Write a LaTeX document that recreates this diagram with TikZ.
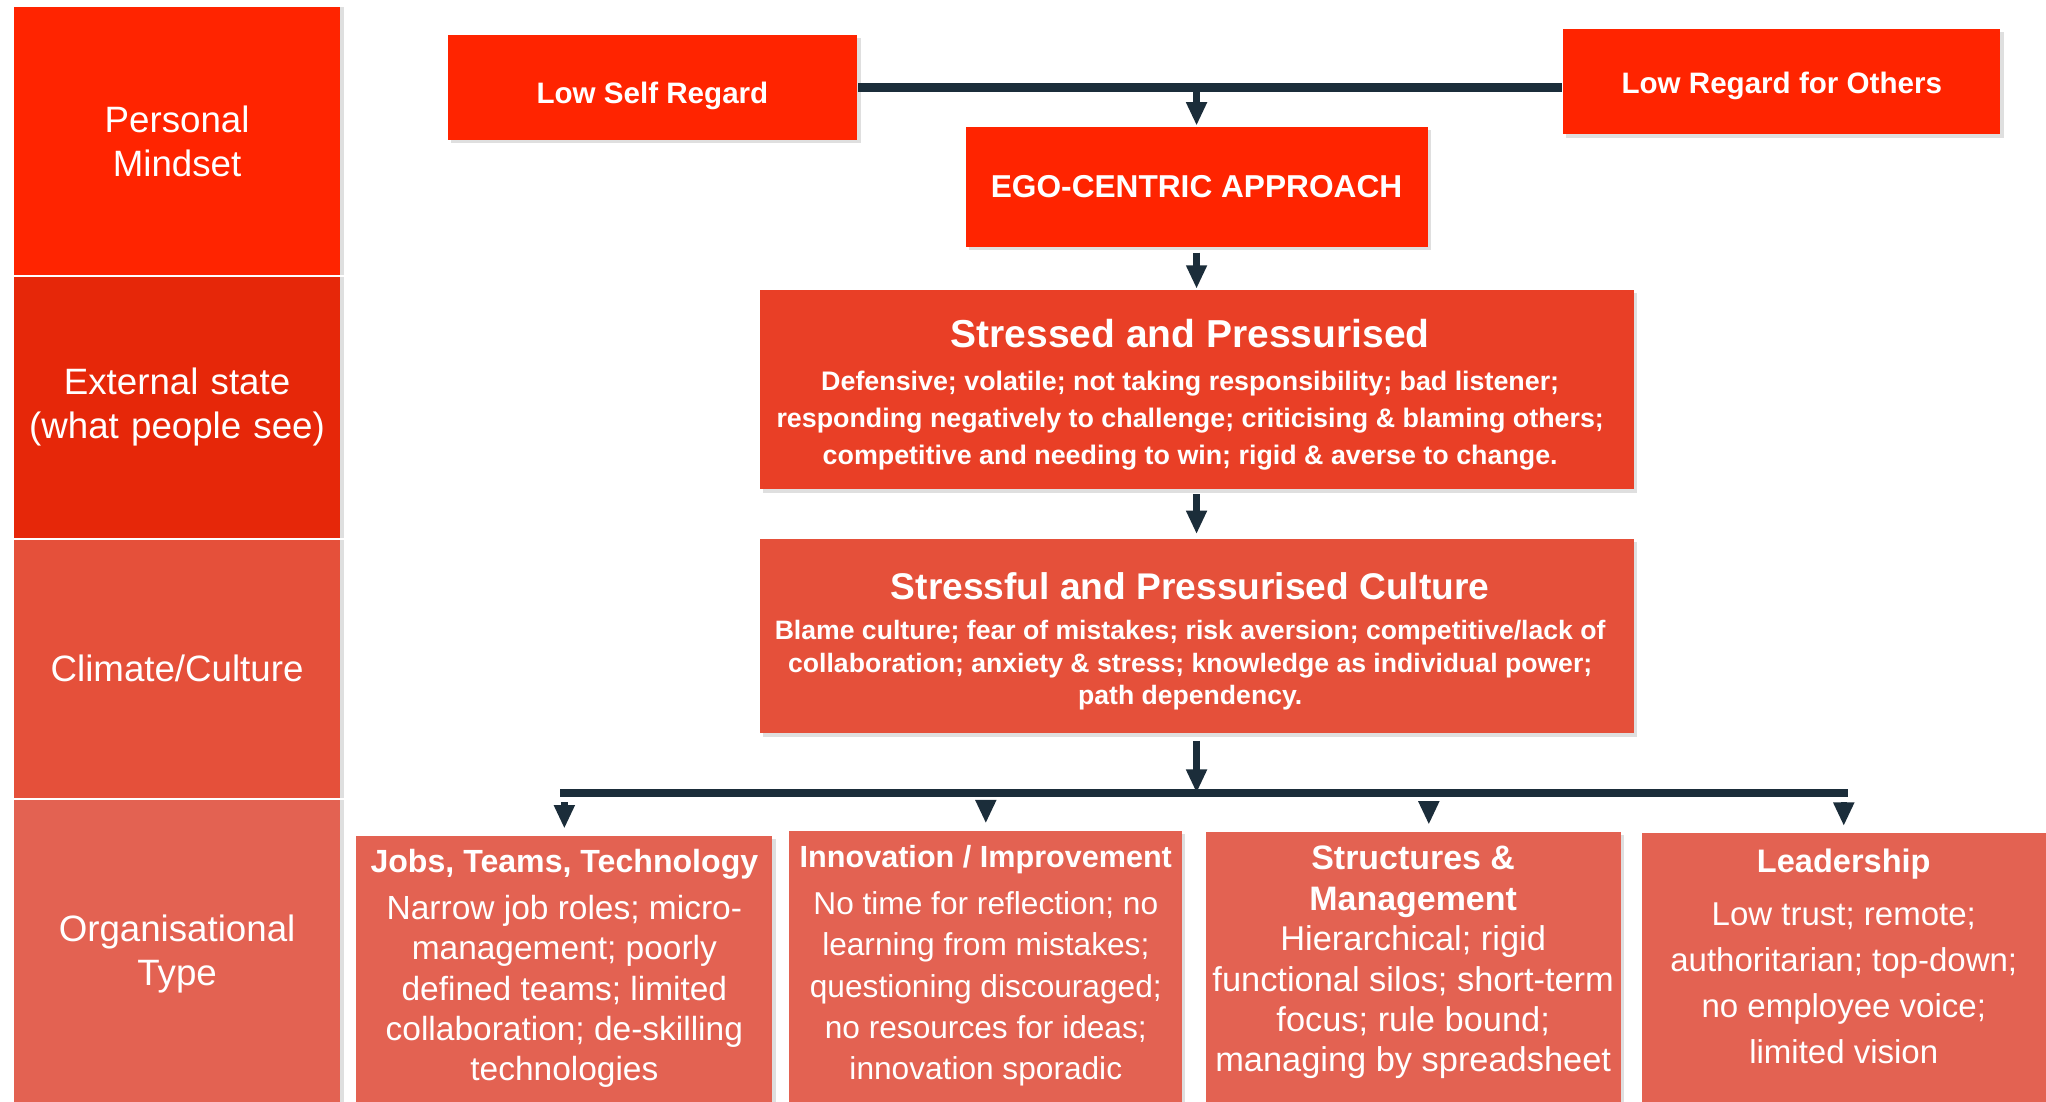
\documentclass[tikz,border=0pt]{standalone}
\usepackage{fontspec}
\setmainfont{Liberation Sans}
\usepackage{tikz}
\usetikzlibrary{shapes,arrows.meta,positioning,shadows}
\usepackage{xcolor}

\definecolor{redA}{HTML}{FF2400}
\definecolor{redB}{HTML}{E62709}
\definecolor{redC}{HTML}{E93F26}
\definecolor{redD}{HTML}{E5503A}
\definecolor{redE}{HTML}{E36252}
\definecolor{linkcol}{HTML}{1B2D3A}

\begin{document}
\begin{tikzpicture}[node distance = 2cm, auto]

    \tikzstyle{band} = [
        rectangle,
        text=white,
        minimum width=2.5cm,
        text width=2.45cm,
        inner sep=0pt,
        align=center,
        font=\fontsize{8}{9.5}\selectfont,
        drop shadow={opacity=0.25, shadow xshift=0.03cm, shadow yshift=0cm},
    ]
    \tikzstyle{block} = [
        rectangle,
        fill=redA,
        text=white,
        inner sep=0pt,
        align=center,
        font=\bfseries,
        drop shadow={opacity=0.25, shadow xshift=0.025cm, shadow yshift=-0.025cm},
    ]
    \tikzstyle{panel} = [
        block,
        minimum width=6.67cm,
    ]
    \tikzstyle{orgbox} = [
        block,
        fill=redE,
        anchor=north,
    ]
    \tikzstyle{line} = [
        draw,
        color=linkcol,
        line width=1.4pt,
        -{Triangle[length=0.18cm, width=0.15cm]},
    ]
    \tikzstyle{bar} = [
        draw,
        color=linkcol,
        line width=1.8pt,
    ]

    \useasboundingbox (0,0) rectangle (15.68,-8.44);
    \fill[white] (0,0) rectangle (15.68,-8.44);

    % levels on the left
    \node [band, fill=redA, minimum height=2.05cm, anchor=north west] (mind) at (0.10,-0.05) {Personal\\Mindset};
    \node [band, fill=redB, minimum height=2.00cm, below=0cm of mind] (ext) {External state\\(what people see)};
    \node [band, fill=redD, minimum height=1.98cm, below=0cm of ext] (clim) {Climate/Culture};
    \node [band, fill=redE, minimum height=2.36cm, below=0cm of clim] (otype) {Organisational\\Type};

    % mindset
    \node [block, 
        minimum width=3.14cm, minimum height=0.80cm,
        text height=0.24cm, text depth=0cm,
        font=\fontsize{6.45}{7.7}\selectfont\bfseries
    ] (lsr) at (5.00,-0.67) {Low Self Regard};

    \node [block, 
        minimum width=3.35cm, minimum height=0.81cm,
        text height=0.19cm, text depth=0cm,
        font=\fontsize{6.45}{7.7}\selectfont\bfseries
    ] (lro) at (13.655,-0.625) {Low Regard for Others};

    \node [block, 
        minimum width=3.54cm, minimum height=0.92cm,
        font=\fontsize{6.9}{8.3}\selectfont\bfseries
    ] (ego) at (9.17,-1.43) {EGO-CENTRIC APPROACH};

    \draw [bar] (lsr.east) -- (lsr.east -| lro.west);
    \path [line] (lsr.east -| ego.north) -- (ego.north);

    % external state
    \node [panel, 
        fill=redC, minimum height=1.53cm,
        below of=ego, node distance=1.555cm
    ] (stress) {\parbox{6.6cm}{\centering
        \vspace{0.08cm}
        \fontsize{8.5}{10}\selectfont Stressed and Pressurised\par
        \vspace{1.15pt}
        \fontsize{5.85}{8.1}\selectfont Defensive; volatile; not taking responsibility; bad listener;\\
        responding negatively to challenge; criticising \& blaming others;\\
        competitive and needing to win; rigid \& averse to change.\par}
    };

    % climate
    \node [panel, 
        fill=redD, minimum height=1.49cm,
        below of=stress, node distance=1.89cm
    ] (cult) {\parbox{6.6cm}{\centering
        \vspace{0.08cm}
        \fontsize{8.1}{9.6}\selectfont Stressful and Pressurised Culture\par
        \vspace{1.7pt}
        \fontsize{5.8}{7.1}\selectfont Blame culture; fear of mistakes; risk aversion; competitive/lack of\\
        collaboration; anxiety \& stress; knowledge as individual power;\\
        path dependency.\par}
    };

    \path [line, shorten <=0.04cm] (ego) -- (stress);
    \path [line, shorten <=0.03cm, shorten >=0.03cm] (stress) -- (cult);

    % organisational type
    \node [orgbox] (jobs) at (4.325,-6.40) {\parbox[c][2.04cm][t]{3.19cm}{\centering
        \fontsize{7}{8.8}\selectfont\rule{0pt}{0.28cm}Jobs, Teams, Technology\par
        \vspace{1.4pt}
        \fontsize{7.3}{8.8}\mdseries\selectfont Narrow job roles; micro-\\management; poorly\\defined teams; limited\\collaboration; de-skilling\\technologies\par}};

    \node [orgbox] (innov) at (7.555,-6.36) {\parbox[c][2.08cm][t]{3.01cm}{\centering
        \fontsize{6.67}{8}\selectfont\rule{0pt}{0.28cm}Innovation / Improvement\par
        \vspace{1.4pt}
        \fontsize{6.9}{8.96}\mdseries\selectfont No time for reflection; no\\learning from mistakes;\\questioning discouraged;\\no resources for ideas;\\innovation sporadic\par}};

    \node [orgbox] (str) at (10.83,-6.37) {\parbox[c][2.07cm][t]{3.18cm}{\centering
        \fontsize{7.4}{8.8}\selectfont\rule{0pt}{0.29cm}Structures \&\\Management\par
        \fontsize{7.5}{8.8}\mdseries\selectfont Hierarchical; rigid\\functional silos; short-term\\focus; rule bound;\\managing by spreadsheet\par}};

    \node [orgbox] (lead) at (14.13,-6.38) {\parbox[c][2.06cm][t]{3.10cm}{\centering
        \fontsize{7.1}{8.5}\selectfont\rule{0pt}{0.30cm}Leadership\par
        \vspace{1.6pt}
        \fontsize{7.2}{10}\mdseries\selectfont Low trust; remote;\\authoritarian; top-down;\\no employee voice;\\limited vision\par}};

    \coordinate [below=0.45cm of cult.south] (fork);
    \coordinate [right=0.12cm of str.north] (strtop);

    \path [line, shorten <=0.05cm] (cult) -- (fork);
    \draw [bar, line cap=rect] (fork -| jobs.north) -- (fork -| lead.north);

    \path [line, shorten <=0.07cm, shorten >=0.05cm] (fork -| jobs.north) -- (jobs.north);
    \path [line, shorten <=0.07cm, shorten >=0.05cm] (fork -| innov.north) -- (innov.north);
    \path [line, shorten <=0.07cm, shorten >=0.05cm] (fork -| strtop) -- (strtop);
    \path [line, shorten <=0.07cm, shorten >=0.05cm] (fork -| lead.north) -- (lead.north);

\end{tikzpicture}
\end{document}
